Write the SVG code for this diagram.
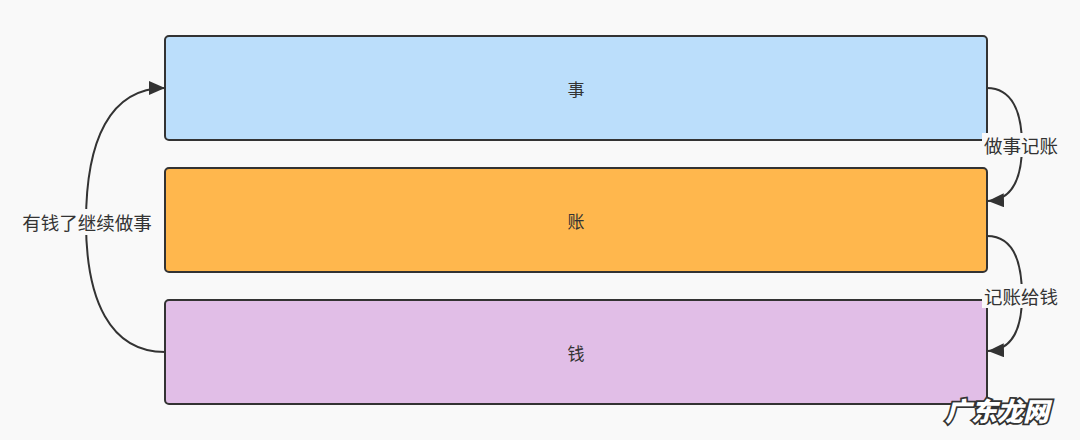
<svg xmlns="http://www.w3.org/2000/svg" width="1080" height="440" viewBox="0 0 1080 440">
  <style>
    .box { stroke: #333; stroke-width: 2; }
    .lbl { font-family: "Noto Sans CJK SC", "Noto Sans", sans-serif; font-size: 18.5px; fill: #333; text-anchor: middle; dominant-baseline: central; }
    .nlbl { font-family: "Noto Sans CJK SC", "Noto Sans", sans-serif; font-size: 17px; fill: #333; text-anchor: middle; dominant-baseline: central; }
    .conn { fill: none; stroke: #333; stroke-width: 2; }
    .bg { fill: #f9f9f9; }
    .wm { font-family: "Noto Sans CJK SC", sans-serif; font-size: 26px; font-weight: 900; font-style: italic; fill: #fff; stroke: #333; stroke-width: 3.5; paint-order: stroke; }
  </style>
  <defs>
    <marker id="arr" viewBox="0 0 16 14" refX="16" refY="7" markerWidth="16" markerHeight="14" markerUnits="userSpaceOnUse" orient="auto">
      <path d="M0,0 L16,7 L0,14 Z" fill="#333"/>
    </marker>
  </defs>
  <rect width="1080" height="440" fill="#f9f9f9"/>
  <g id="node-shi">
    <rect class="box" x="165" y="36" width="822" height="104" rx="4" fill="#bbdefb"/>
    <text class="nlbl" x="576" y="88">事</text>
  </g>
  <g id="node-zhang">
    <rect class="box" x="165" y="168" width="822" height="104" rx="4" fill="#ffb74d"/>
    <text class="nlbl" x="576" y="220">账</text>
  </g>
  <g id="node-qian">
    <rect class="box" x="165" y="300" width="822" height="104" rx="4" fill="#e1bee7"/>
    <text class="nlbl" x="576" y="352">钱</text>
  </g>
  <g id="connectors">
    <path class="conn" d="M987,88 C1012,88 1022,112 1022,145 C1022,180 1012,200 988,201" marker-end="url(#arr)"/>
    <rect class="bg" x="982" y="133" width="78" height="24"/>
    <text class="lbl" x="1021" y="145">做事记账</text>
    <path class="conn" d="M987,236 C1012,236 1022,260 1022,296 C1022,330 1012,350 988,351" marker-end="url(#arr)"/>
    <rect class="bg" x="982" y="284" width="78" height="24"/>
    <text class="lbl" x="1021" y="296">记账给钱</text>
    <path class="conn" d="M165,352 C110,352 86,300 86,222 C86,140 110,88 165,88" marker-end="url(#arr)"/>
    <rect class="bg" x="20" y="209" width="134" height="26"/>
    <text class="lbl" x="87" y="222">有钱了继续做事</text>
  </g>
  <text class="wm" x="945" y="421">广东龙网</text>
</svg>
